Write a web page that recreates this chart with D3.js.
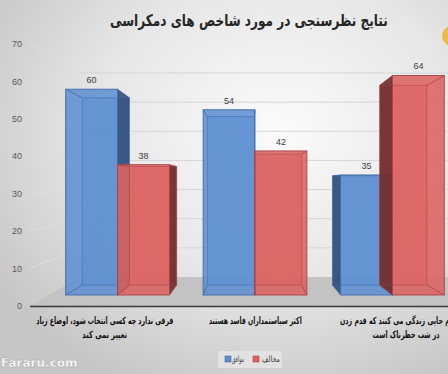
<!DOCTYPE html>
<html><head><meta charset="utf-8">
<script src="https://cdn.jsdelivr.net/npm/d3@7"></script>
<style>html,body{margin:0;padding:0;overflow:hidden;background:#ddd}svg{display:block}</style>
</head><body>
<svg id="c" width="448" height="374"></svg>
<script>
const title = "نتایج نظرسنجی در مورد شاخص های دمکراسی";
const categories = ["c1", "c2", "c3"];
const categoryLines = [
  ["فرقی ندارد چه کسی انتخاب شود، اوضاع زیاد", "تغییر نمی کند"],
  ["اکثر سیاستمداران فاسد هستند"],
  ["مردم جایی زندگی می کنند که قدم زدن", "در شب خطرناک است"]
];
const seriesNames = ["موافق", "مخالف"];
const agree = [60, 54, 35];
const disagree = [38, 42, 64];
const yTicks = [0, 10, 20, 30, 40, 50, 60, 70];
const watermark = "Fararu.com";

const svg = d3.select("#c");
const W = 448, H = 374;
const defs = svg.append("defs");
const bg = defs.append("radialGradient").attr("id","bg").attr("cx","0.62").attr("cy","0.35").attr("r","0.75");
bg.append("stop").attr("offset","0").attr("stop-color","#fbfbfb");
bg.append("stop").attr("offset","0.55").attr("stop-color","#e6e6e6");
bg.append("stop").attr("offset","1").attr("stop-color","#c6c6c6");
svg.append("rect").attr("width",W).attr("height",H).attr("fill","url(#bg)");

function place(sel, opts) {
  const bb = sel.node().getBBox();
  const s = opts.scale != null ? opts.scale : (opts.width ? opts.width / bb.width : 1);
  let tx;
  if (opts.left != null) tx = opts.left - s * bb.x;
  else tx = opts.cx - s * (bb.x + bb.width / 2);
  sel.attr("transform", `translate(${tx},0) scale(${s},1)`);
  return s;
}

const vp = [250, 185], k = 0.09;
const back = (p) => [p[0] + (vp[0]-p[0])*k, p[1] + (vp[1]-p[1])*k];

const yFront = d3.scaleLinear().domain([0,70]).range([295, 295 - 70*3.43]);
const yAxis = d3.scaleLinear().domain([0,70]).range([306, 44]);
const yBack = d3.scaleLinear().domain([0,70]).range([277, 73]);
const x0 = d3.scaleBand().domain(categories).range([32, 478]).padding(0.245);
const x1 = d3.scaleBand().domain(seriesNames).range([0, x0.bandwidth()]);
const sideX = 30, backLeft = 80;

const grid = svg.append("g");
yTicks.slice(1).forEach(t => {
  grid.append("line").attr("x1", backLeft).attr("x2", W).attr("y1", yBack(t)).attr("y2", yBack(t))
    .attr("stroke","#d6d6d6").attr("stroke-width",1);
  grid.append("line").attr("x1", sideX).attr("x2", backLeft).attr("y1", yAxis(t)).attr("y2", yBack(t))
    .attr("stroke","#dedede").attr("stroke-width",1);
});

svg.append("polygon").attr("points", [[sideX,306],[W+10,306],[W+10,yBack(0)],[backLeft,yBack(0)]].map(p=>p.join(",")).join(" "))
  .attr("fill","#c3c3c3");
svg.append("line").attr("x1",sideX).attr("x2",W).attr("y1",306.5).attr("y2",306.5).attr("stroke","#3a3a3a").attr("stroke-width",1.5);

svg.append("g").selectAll("text").data(yTicks).join("text")
  .attr("x", 22).attr("y", d => yAxis(d)).attr("dy","0.35em").attr("text-anchor","end")
  .attr("font-family","Liberation Sans, Arial, sans-serif").attr("font-size",9).attr("fill","#595959")
  .text(d => d);

const colors = {
  "موافق": {front:"#5f8fd2", side:"#2f4f7a", stroke:"#3f6aa6", edge:"#3a64a0"},
  "مخالف": {front:"#dc6361", side:"#6e2b2b", stroke:"#a84444", edge:"#a03d3d"}
};
const bars = [];
categories.forEach((c,i) => {
  [agree[i], disagree[i]].forEach((v,j) => {
    const s = seriesNames[j];
    bars.push({c, s, v, x: x0(c)+x1(s), w: x1.bandwidth()});
  });
});

const pts = a => a.map(p=>p.join(",")).join(" ");
const bg2 = svg.append("g");
bars.forEach(b => {
  const col = colors[b.s];
  const L = b.x, R = b.x + b.w, T = yFront(b.v), B = yFront(0);
  const fTL=[L,T], fTR=[R,T], fBL=[L,B], fBR=[R,B];
  const bTL=back(fTL), bTR=back(fTR), bBL=back(fBL), bBR=back(fBR);
  const g = bg2.append("g");
  g.append("polygon").attr("points", pts([bTL,bTR,bBR,bBL])).attr("fill", col.front).attr("opacity",0.6);
  if (R < vp[0]) g.append("polygon").attr("points", pts([fTR,bTR,bBR,fBR])).attr("fill", col.side).attr("opacity",0.9);
  if (L > vp[0]) g.append("polygon").attr("points", pts([fTL,bTL,bBL,fBL])).attr("fill", col.side).attr("opacity",0.9);
  g.append("rect").attr("x",L).attr("y",T).attr("width",b.w).attr("height",B-T)
    .attr("fill", col.front).attr("opacity",0.88);
  g.append("polygon").attr("points", pts([bTL,bTR,bBR,bBL])).attr("fill","none").attr("stroke",col.edge).attr("stroke-width",0.6).attr("opacity",0.8);
  [[fTL,bTL],[fTR,bTR],[fBL,bBL],[fBR,bBR]].forEach(e => g.append("line")
    .attr("x1",e[0][0]).attr("y1",e[0][1]).attr("x2",e[1][0]).attr("y2",e[1][1])
    .attr("stroke",col.edge).attr("stroke-width",0.7));
  g.append("rect").attr("x",L).attr("y",T).attr("width",b.w).attr("height",B-T)
    .attr("fill","none").attr("stroke",col.stroke).attr("stroke-width",0.9);
  g.append("text").attr("x",(L+R)/2).attr("y",T-6).attr("text-anchor","middle")
    .attr("font-family","Liberation Sans, Arial, sans-serif").attr("font-size",9).attr("fill","#404040")
    .text(b.v);
});

const labelWidths = [[137, 45], [93], [null, 67]];
categories.forEach((c,i) => {
  const cx = x0(c) + x0.bandwidth()/2;
  const lx = vp[0] + (cx - vp[0]) * 1.096;
  const nodes = categoryLines[i].map((ln, li) => svg.append("text").attr("x", 0).attr("y", 324 + li*14)
      .attr("font-family","DejaVu Sans, sans-serif").attr("font-weight","bold")
      .attr("font-size",10).attr("fill","#111").text(ln));
  const scales = [];
  nodes.forEach((n, li) => { if (labelWidths[i][li] != null) scales[li] = place(n, {cx: lx, width: labelWidths[i][li]}); });
  nodes.forEach((n, li) => { if (labelWidths[i][li] == null) {
    const s = scales.find(v => v != null) || 0.75;
    place(n, {left: 340, scale: s});
  }});
});

const tt = svg.append("text").attr("x", 0).attr("y", 26)
  .attr("font-family","DejaVu Sans, sans-serif").attr("font-weight","bold").attr("font-size",16).attr("fill","#262626")
  .text(title);
place(tt, {cx: 249, width: 278});

const lg = svg.append("g");
lg.append("rect").attr("x",218).attr("y",351).attr("width",64).attr("height",17).attr("fill","#e2e2e2");
const legendItems = [{s:"موافق", x:225, tl:232, tw:12}, {s:"مخالف", x:253, tl:262, tw:18}];
legendItems.forEach(it => {
  lg.append("rect").attr("x",it.x).attr("y",356).attr("width",6).attr("height",6)
    .attr("fill",colors[it.s].front).attr("stroke",colors[it.s].stroke).attr("stroke-width",0.6);
  const t = lg.append("text").attr("x",0).attr("y",362).attr("font-family","DejaVu Sans, sans-serif")
    .attr("font-size",9).attr("fill","#404040").text(it.s);
  place(t, {cx: it.tl + it.tw/2, width: it.tw});
});

svg.append("circle").attr("cx",452).attr("cy",36).attr("r",10).attr("fill","#f0b030").attr("opacity",0.85);

svg.append("text").attr("x",1).attr("y",367).attr("font-family","DejaVu Sans, sans-serif").attr("font-weight","bold")
  .attr("font-size",12).attr("fill","#ffffff").attr("stroke","#999").attr("stroke-width",0.3).text(watermark);
</script>
</body></html>
